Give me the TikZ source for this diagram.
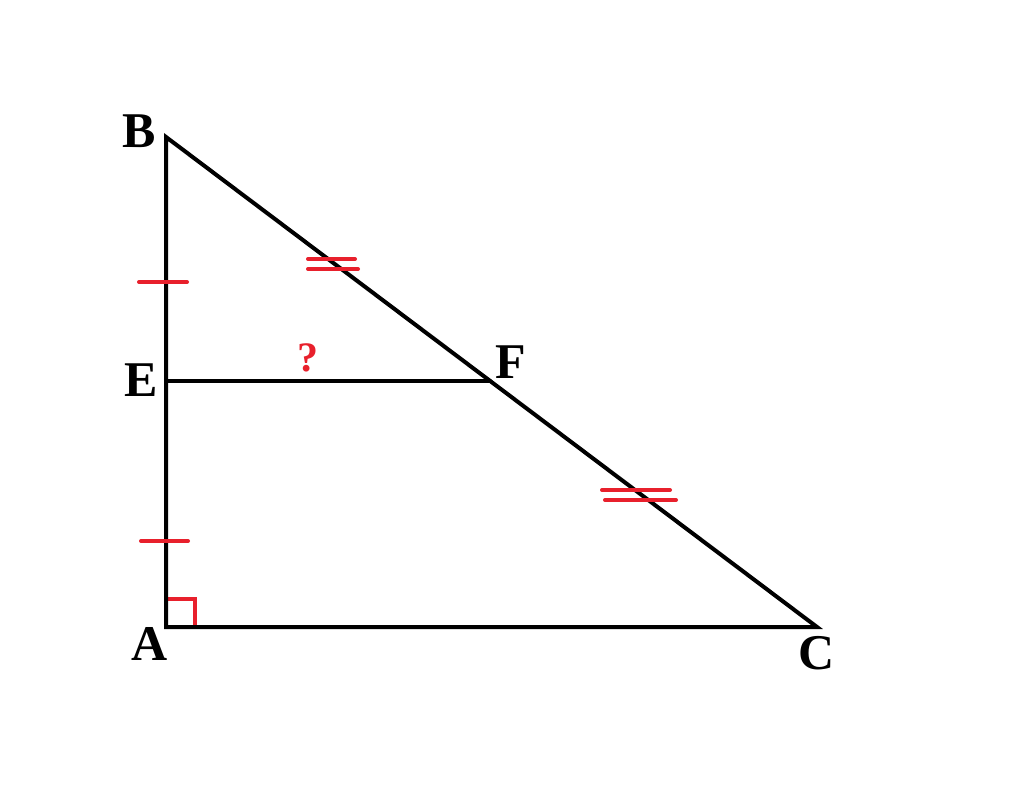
\documentclass[tikz,border=0pt]{standalone}
\usepackage{fontspec}
\setmainfont{Liberation Serif}
\definecolor{tickred}{RGB}{232,32,44}
\begin{document}
\begin{tikzpicture}[x=1pt,y=-1pt,
  edge/.style={line width=4pt,black,line cap=round,line join=miter},
  tick/.style={line width=4pt,tickred,line cap=round},
  lbl/.style={font=\fontsize{50}{50}\selectfont\bfseries,inner sep=0pt}]
\useasboundingbox[fill=white] (0,0) rectangle (1024,803);
\coordinate (B) at (166,137);
\coordinate (A) at (166,627);
\coordinate (C) at (817,627);
\coordinate (E) at (166,381);
\coordinate (F) at (490,381);
% right angle
\draw[tick,line cap=butt] (166,599) -- (195,599) -- (195,627);
\draw[edge] (B) -- (A) -- (C) -- cycle;
\draw[edge] (E) -- (F);
% ticks on AB
\draw[tick] (139,282) -- (187,282);
\draw[tick] (141,541) -- (188,541);
% double ticks on BC
\draw[tick] (308,259) -- (355,259);
\draw[tick] (308,269) -- (358,269);
\draw[tick] (602,490) -- (670,490);
\draw[tick] (605,500) -- (676,500);
% labels
\node[lbl] (lB) at (139,131) {B};
\node[lbl] (lE) at (141,380) {E};
\node[lbl] (lF) at (511,362) {F};
\node[lbl] (lA) at (150,644) {A};
\node[lbl] (lC) at (817,653) {C};
\node[lbl,tickred,font=\fontsize{42}{42}\selectfont\bfseries] (q) at (308,358) {?};
\end{tikzpicture}
\end{document}
